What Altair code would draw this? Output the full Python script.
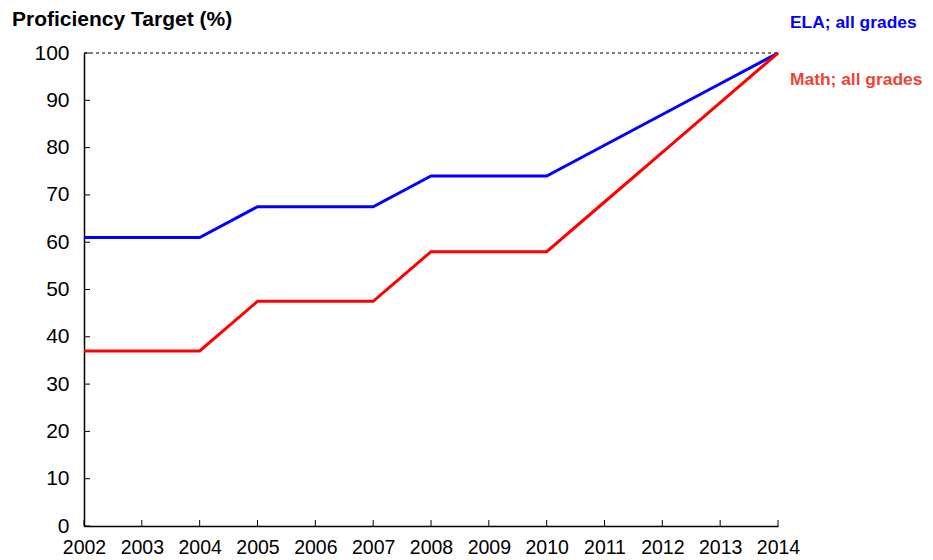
import altair as alt
import pandas as pd

years = list(range(2002, 2015))
ela = [61, 61, 61, 67.5, 67.5, 67.5, 74, 74, 74, 80.5, 87, 93.5, 100]
math = [37, 37, 37, 47.5, 47.5, 47.5, 58, 58, 58, 68.5, 79, 89.5, 100]
y_ticks = list(range(0, 101, 10))
series_names = ["ELA; all grades", "Math; all grades"]
line_colors = ["#0000FF", "#FF0000"]
label_colors = ["#0000FF", "#EE4433"]
label_y = [106.3, 94.3]

rows = []
for yr, e, m in zip(years, ela, math):
    rows.append({"year": yr, "value": e, "series": series_names[0]})
    rows.append({"year": yr, "value": m, "series": series_names[1]})
df = pd.DataFrame(rows)

W, H = 694, 473
FONT = "Liberation Sans"

xscale = alt.Scale(domain=[2002, 2014], nice=False, zero=False)
yscale = alt.Scale(domain=[0, 100], nice=False)

base_x = alt.X("year:Q", scale=xscale,
               axis=alt.Axis(values=years, format="d", title=None, grid=False,
                             ticks=True, tickSize=0, labelPadding=12,
                             labelFontSize=19.5, labelFont=FONT, labelColor="black",
                             domainColor="black", domainWidth=1.5, labelFlush=False))
base_y = alt.Y("value:Q", scale=yscale,
               axis=alt.Axis(values=y_ticks, title=None, grid=False,
                             ticks=True, tickSize=0, labelPadding=15,
                             labelFontSize=21, labelFont=FONT, labelColor="black",
                             domainColor="black", domainWidth=1.5))

lines = alt.Chart(df).mark_line(strokeWidth=3).encode(
    x=base_x, y=base_y,
    color=alt.Color("series:N", scale=alt.Scale(domain=series_names, range=line_colors), legend=None),
)

ref_df = pd.DataFrame({"x1": [2002], "x2": [2014], "y": [100]})
ref = alt.Chart(ref_df).mark_rule(color="black", strokeWidth=1, strokeDash=[3, 3]).encode(
    x=alt.X("x1:Q", scale=xscale), x2="x2:Q", y=alt.Y("y:Q", scale=yscale)
)

xt_df = pd.DataFrame({"year": years})
xticks = alt.Chart(xt_df).mark_rule(color="black", strokeWidth=1).encode(
    x=alt.X("year:Q", scale=xscale), y=alt.value(H - 6), y2=alt.value(H)
)
yt_df = pd.DataFrame({"v": y_ticks})
yticks = alt.Chart(yt_df).mark_rule(color="black", strokeWidth=1).encode(
    y=alt.Y("v:Q", scale=yscale), x=alt.value(0), x2=alt.value(6)
)

lab_df = pd.DataFrame({"series": series_names, "x": [2014, 2014], "y": label_y})
labels = alt.Chart(lab_df).mark_text(align="left", baseline="middle", dx=12,
                                     fontSize=17.4, fontWeight="bold", font=FONT).encode(
    x=alt.X("x:Q", scale=xscale), y=alt.Y("y:Q", scale=yscale), text="series:N",
    color=alt.Color("series:N", scale=alt.Scale(domain=series_names, range=label_colors), legend=None),
)

title_df = pd.DataFrame({"t": ["Proficiency Target (%)"]})
title = alt.Chart(title_df).mark_text(align="left", baseline="middle", fontSize=21,
                                      fontWeight="bold", font=FONT, color="black").encode(
    x=alt.value(-72), y=alt.value(-33), text="t:N"
)

chart = alt.layer(ref, lines, xticks, yticks, labels, title).resolve_scale(color="independent").properties(
    width=W, height=H,
    background="white",
    autosize=alt.AutoSizeParams(type="none"),
    padding={"left": 76, "top": 45, "right": 147, "bottom": 30},
).configure_view(stroke=None, strokeWidth=0)

chart.save("out.html", embed_options={"renderer": "svg", "actions": False})
